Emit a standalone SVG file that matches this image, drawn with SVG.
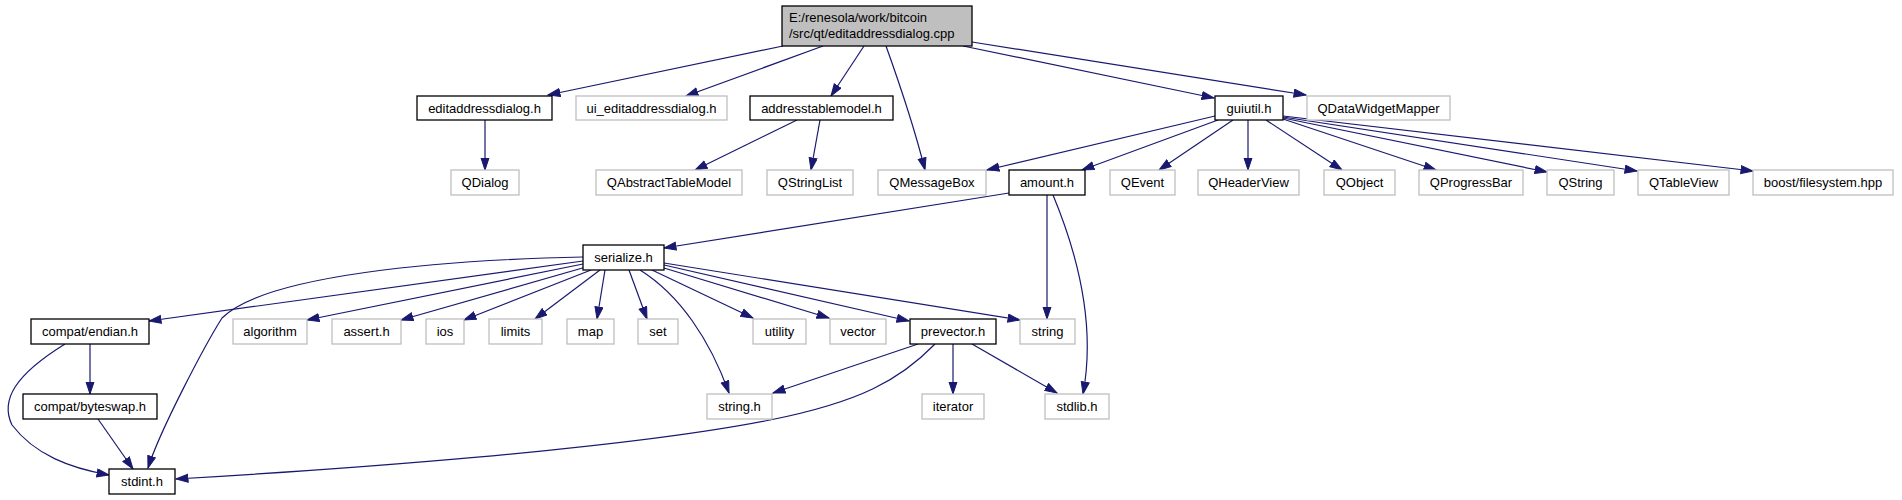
<svg xmlns="http://www.w3.org/2000/svg" width="1902" height="500" viewBox="0 0 1902 500">
<defs>
<style>
.b rect{fill:#fff;stroke:#000;stroke-width:1.3}
.g rect{fill:#fff;stroke:#bfbfbf;stroke-width:1.3}
.r rect{fill:#bfbfbf;stroke:#000;stroke-width:1.3}
text{font-family:"Liberation Sans",Arial,sans-serif;font-size:13px;fill:#000}
.c text{text-anchor:middle}
#edges path{fill:none;stroke:#191970;stroke-width:1.2;marker-end:url(#ah)}
</style>
<marker id="ah" markerUnits="userSpaceOnUse" markerWidth="14" markerHeight="11" refX="12.5" refY="4.5" orient="auto">
<path d="M0.5,0.5 L12.5,4.5 L0.5,8.5 z" fill="#191970" stroke="#191970" stroke-width="1"/>
</marker>
</defs>
<rect width="1902" height="500" fill="#fff"/>
<g id="edges">
<path d="M783,46 L548,95"/>
<path d="M823,46 L686,96"/>
<path d="M864,46 L831,96"/>
<path d="M886,46 C900,85 915,130 925,170"/>
<path d="M963,46 L1214,98"/>
<path d="M972,42 L1306,95"/>
<path d="M485,120 L485,170"/>
<path d="M797,120 L695,170"/>
<path d="M820,120 L811,170"/>
<path d="M1215,116 L987,170"/>
<path d="M1218,120 L1082,170"/>
<path d="M1233,120 L1159,170"/>
<path d="M1248,120 L1248,170"/>
<path d="M1266,120 L1342,170"/>
<path d="M1283,119 L1436,170"/>
<path d="M1283,118 L1547,172"/>
<path d="M1283,117 L1637,171"/>
<path d="M1283,116 L1753,171"/>
<path d="M1009,193 L664,248"/>
<path d="M1047,195 L1047,319"/>
<path d="M1053,195 C1080,260 1095,330 1083,394"/>
<path d="M583,261 L149,321"/>
<path d="M583,257 C440,260 265,275 222,318 C205,345 160,430 148,468"/>
<path d="M583,264 L307,320"/>
<path d="M586,267 L401,320"/>
<path d="M591,270 L464,320"/>
<path d="M600,270 L535,319"/>
<path d="M605,270 L597,319"/>
<path d="M629,270 L647,319"/>
<path d="M640,270 C680,295 710,340 729,393"/>
<path d="M652,270 L753,318"/>
<path d="M664,268 L829,318"/>
<path d="M664,265 L909,321"/>
<path d="M664,263 L1020,320"/>
<path d="M918,344 L773,393"/>
<path d="M935,344 C900,380 860,402 770,420 C620,450 330,470 176,479"/>
<path d="M953,344 L953,394"/>
<path d="M972,344 L1057,393"/>
<path d="M90,344 L90,394"/>
<path d="M65,344 C15,375 0,400 12,425 C35,455 70,468 109,475"/>
<path d="M98,419 L133,469"/>
</g>
<g id="root" class="r"><rect x="782" y="6" width="190" height="40"/><text x="789" y="21.5">E:/renesola/work/bitcoin</text><text x="789" y="37.5">/src/qt/editaddressdialog.cpp</text></g>
<g class="c">
<g id="editaddressdialog_h" class="b"><rect x="417" y="96" width="135" height="24"/><text x="484.5" y="112.5">editaddressdialog.h</text></g>
<g id="ui_editaddressdialog_h" class="g"><rect x="576" y="96" width="151" height="24"/><text x="651.5" y="112.5">ui_editaddressdialog.h</text></g>
<g id="addresstablemodel_h" class="b"><rect x="750" y="96" width="143" height="24"/><text x="821.5" y="112.5">addresstablemodel.h</text></g>
<g id="guiutil_h" class="b"><rect x="1215" y="96" width="68" height="24"/><text x="1249" y="112.5">guiutil.h</text></g>
<g id="QDataWidgetMapper" class="g"><rect x="1307" y="96" width="143" height="24"/><text x="1378.5" y="112.5">QDataWidgetMapper</text></g>
<g id="QDialog" class="g"><rect x="451" y="170" width="68" height="25"/><text x="485" y="187">QDialog</text></g>
<g id="QAbstractTableModel" class="g"><rect x="596" y="170" width="146" height="25"/><text x="669" y="187">QAbstractTableModel</text></g>
<g id="QStringList" class="g"><rect x="767" y="170" width="86" height="25"/><text x="810" y="187">QStringList</text></g>
<g id="QMessageBox" class="g"><rect x="878" y="170" width="108" height="25"/><text x="932" y="187">QMessageBox</text></g>
<g id="amount_h" class="b"><rect x="1009" y="170" width="76" height="25"/><text x="1047" y="187">amount.h</text></g>
<g id="QEvent" class="g"><rect x="1110" y="170" width="65" height="25"/><text x="1142.5" y="187">QEvent</text></g>
<g id="QHeaderView" class="g"><rect x="1198" y="170" width="101" height="25"/><text x="1248.5" y="187">QHeaderView</text></g>
<g id="QObject" class="g"><rect x="1324" y="170" width="71" height="25"/><text x="1359.5" y="187">QObject</text></g>
<g id="QProgressBar" class="g"><rect x="1419" y="170" width="104" height="25"/><text x="1471" y="187">QProgressBar</text></g>
<g id="QString" class="g"><rect x="1547" y="170" width="67" height="25"/><text x="1580.5" y="187">QString</text></g>
<g id="QTableView" class="g"><rect x="1638" y="170" width="91" height="25"/><text x="1683.5" y="187">QTableView</text></g>
<g id="boost_filesystem_hpp" class="g"><rect x="1753" y="170" width="140" height="25"/><text x="1823" y="187">boost/filesystem.hpp</text></g>
<g id="serialize_h" class="b"><rect x="583" y="245" width="81" height="25"/><text x="623.5" y="262">serialize.h</text></g>
<g id="compat_endian_h" class="b"><rect x="31" y="319" width="118" height="25"/><text x="90" y="336">compat/endian.h</text></g>
<g id="algorithm" class="g"><rect x="233" y="319" width="74" height="25"/><text x="270" y="336">algorithm</text></g>
<g id="assert_h" class="g"><rect x="332" y="319" width="69" height="25"/><text x="366.5" y="336">assert.h</text></g>
<g id="ios" class="g"><rect x="426" y="319" width="38" height="25"/><text x="445" y="336">ios</text></g>
<g id="limits" class="g"><rect x="489" y="319" width="53" height="25"/><text x="515.5" y="336">limits</text></g>
<g id="map" class="g"><rect x="567" y="319" width="47" height="25"/><text x="590.5" y="336">map</text></g>
<g id="set" class="g"><rect x="638" y="319" width="40" height="25"/><text x="658" y="336">set</text></g>
<g id="utility" class="g"><rect x="753" y="319" width="53" height="25"/><text x="779.5" y="336">utility</text></g>
<g id="vector" class="g"><rect x="830" y="319" width="56" height="25"/><text x="858" y="336">vector</text></g>
<g id="prevector_h" class="b"><rect x="910" y="319" width="86" height="25"/><text x="953" y="336">prevector.h</text></g>
<g id="string" class="g"><rect x="1020" y="319" width="55" height="25"/><text x="1047.5" y="336">string</text></g>
<g id="compat_byteswap_h" class="b"><rect x="23" y="394" width="134" height="25"/><text x="90" y="411">compat/byteswap.h</text></g>
<g id="string_h" class="g"><rect x="707" y="394" width="65" height="25"/><text x="739.5" y="411">string.h</text></g>
<g id="iterator" class="g"><rect x="922" y="394" width="62" height="25"/><text x="953" y="411">iterator</text></g>
<g id="stdlib_h" class="g"><rect x="1045" y="394" width="64" height="25"/><text x="1077" y="411">stdlib.h</text></g>
<g id="stdint_h" class="b"><rect x="109" y="469" width="66" height="25"/><text x="142" y="486">stdint.h</text></g>
</g>
</svg>
